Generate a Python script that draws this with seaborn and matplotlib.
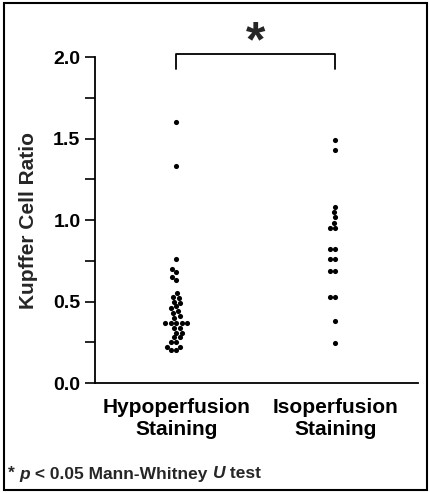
import matplotlib
matplotlib.use("Agg")
import matplotlib.pyplot as plt
import seaborn as sns
import pandas as pd
from matplotlib.patches import Rectangle
from matplotlib.ticker import MultipleLocator

# values
groups = ["Hypoperfusion\nStaining", "Isoperfusion\nStaining"]
hypo_ratio = [1.60, 1.33, 0.76,
              0.70, 0.68, 0.65, 0.63,
              0.55, 0.53, 0.52, 0.50, 0.49, 0.47, 0.46, 0.44, 0.43, 0.41, 0.40,
              0.37, 0.37, 0.37, 0.37, 0.37,
              0.34, 0.34, 0.31, 0.31, 0.28, 0.28, 0.25, 0.25, 0.22, 0.22, 0.20, 0.20]
iso_ratio = [1.49, 1.43, 1.08, 1.05, 1.02, 0.98, 0.95, 0.95,
             0.82, 0.82, 0.76, 0.76, 0.69, 0.69, 0.53, 0.53, 0.38, 0.245]
footnote = [("* ", "normal"), ("p", "italic"), (" < 0.05 Mann-Whitney ", "normal"),
            ("U", "italic"), (" test", "normal")]

df = pd.DataFrame({
    "group": [groups[0]] * len(hypo_ratio) + [groups[1]] * len(iso_ratio),
    "ratio": hypo_ratio + iso_ratio,
})

sns.set_style("ticks")
plt.rcParams["font.family"] = ["Liberation Sans", "DejaVu Sans"]
plt.rcParams["font.weight"] = "bold"

fig = plt.figure(figsize=(4.3, 4.93), dpi=100)
ax = fig.add_axes([0.221, 0.223, 0.751, 0.661])
sns.swarmplot(data=df, x="group", y="ratio", order=groups, color="black",
              size=3.7, ax=ax)

ax.set_xlim(-0.51, 1.52)
ax.set_ylim(0, 2.0)
ax.yaxis.set_major_locator(MultipleLocator(0.5))
ax.yaxis.set_minor_locator(MultipleLocator(0.25))
ax.yaxis.set_major_formatter(matplotlib.ticker.FormatStrFormatter("%.1f"))
for s in ["top", "right"]:
    ax.spines[s].set_visible(False)
for s in ["left", "bottom"]:
    ax.spines[s].set_linewidth(1.3)
    ax.spines[s].set_color("black")
ax.tick_params(axis="x", length=0, labelsize=15, pad=11, colors="black")
ax.tick_params(axis="y", which="both", length=7, width=1.2, labelsize=14,
               colors="black", direction="out")
ax.set_xlabel("")
ax.set_ylabel("Kupffer Cell Ratio", fontsize=15, fontweight="bold", labelpad=11)

# significance bracket
ax.plot([0, 0, 1, 1], [1.93, 2.02, 2.02, 1.93], color="black", lw=1.3,
        clip_on=False)
ax.text(0.5, 2.085, "*", fontsize=36, fontweight="bold", ha="center",
        va="center", transform=ax.transData)

# border
fig.patches.append(Rectangle((4 / 430, 3 / 493), 423 / 430, 487 / 493,
                             transform=fig.transFigure, fill=False,
                             lw=1.5, ec="black"))

# footnote with italic pieces
renderer = fig.canvas.get_renderer()
x = 8 / 430
for txt, style in footnote:
    t = fig.text(x, 1 - 474 / 493, txt, fontsize=12.5, fontweight="bold",
                 style=style, va="center", ha="left")
    bb = t.get_window_extent(renderer)
    x = fig.transFigure.inverted().transform((bb.x1, 0))[0]

fig.savefig("out.png", dpi=100)
